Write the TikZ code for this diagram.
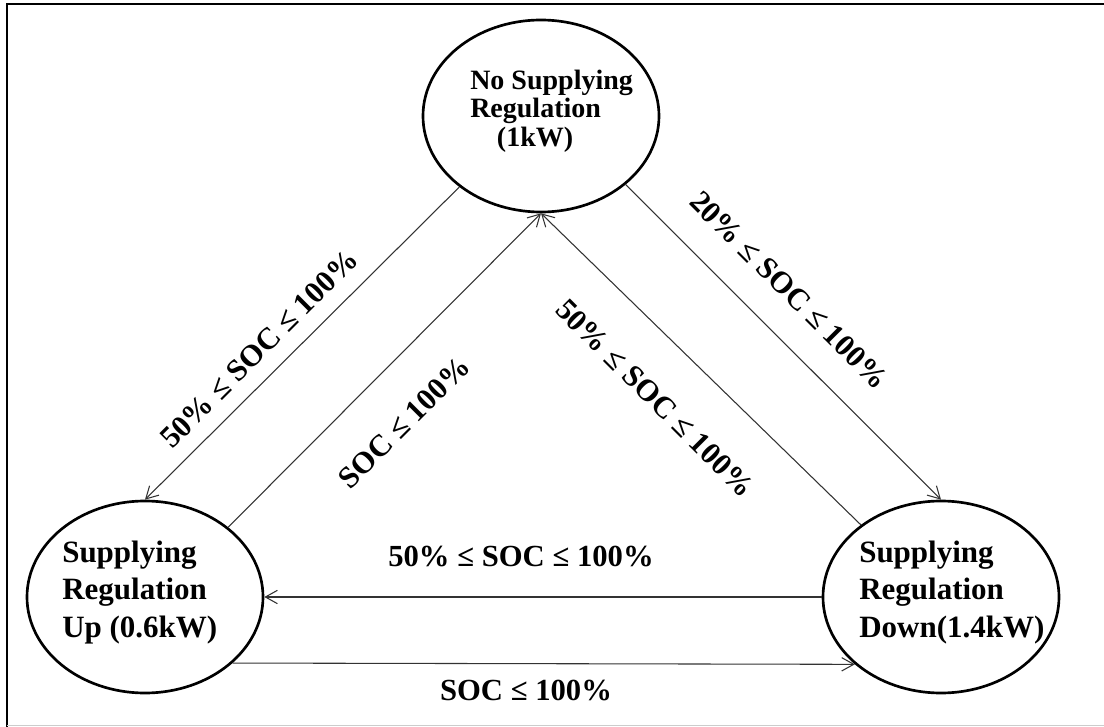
\documentclass[tikz,border=0pt]{standalone}
\usepackage{fontspec}
\setmainfont{Liberation Serif}
\usetikzlibrary{arrows.meta,shapes.geometric}
\begin{document}
\begin{tikzpicture}[x=0.75pt,y=-0.75pt,
  state/.style={draw,ellipse,line width=2pt,minimum width=177pt,minimum height=144pt,inner sep=0pt},
  conn/.style={line width=0.8pt,draw=black!80,-{Straight Barb[length=9pt,width=10pt,line width=0.8pt]}},
  txt/.style={font=\bfseries\fontsize{23.25}{28}\selectfont,align=left,inner sep=0pt},
  toptxt/.style={font=\bfseries\fontsize{21}{21.5}\selectfont,align=left,inner sep=0pt},
  lab/.style={font=\bfseries\fontsize{23}{28}\selectfont,inner sep=0pt}]
\useasboundingbox (0,0) rectangle (1104,727);
\draw[line width=1.8pt] (7,727) -- (7,4) -- (1104,4);
\draw[gray!40,line width=1pt] (7,725.5) -- (1104,725.5);

\node[state] (T) at (541,116) {};
\node[state] (L) at (145,597) {};
\node[state] (R) at (941,597) {};

\node[toptxt,anchor=west] (Tt) at (470,111) {No Supplying\\Regulation\\\hspace*{20pt}(1kW)};
\node[txt,anchor=west] (Lt) at (62,592.5) {Supplying\\Regulation\\Up (0.6kW)};
\node[txt,anchor=west] (Rt) at (859,592.5) {Supplying\\Regulation\\Down(1.4kW)};

\draw[conn] (T.-139.8) -- (L.north);
\draw[conn] (L.40.3) -- (T.south);
\draw[conn] (R.138.4) -- (T.south);
\draw[conn] (T.-39.4) -- (R.north);
\draw[conn] (R.west) -- (L.east);
\draw[conn] (L.-37.5) -- (R.-142.5);

\node[lab,rotate=45] (l1) at (259,349) {50\% ≤ SOC ≤ 100\%};
\node[lab,rotate=45] (l2) at (404,423) {SOC ≤ 100\%};
\node[lab,rotate=-45] (l3) at (655,398) {50\% ≤ SOC ≤ 100\%};
\node[lab,rotate=-45] (l4) at (789,290) {20\% ≤ SOC ≤ 100\%};
\node[lab] (h1) at (521,557) {50\% ≤ SOC ≤ 100\%};
\node[lab] (h2) at (526,691) {SOC ≤ 100\%};
\end{tikzpicture}
\end{document}
